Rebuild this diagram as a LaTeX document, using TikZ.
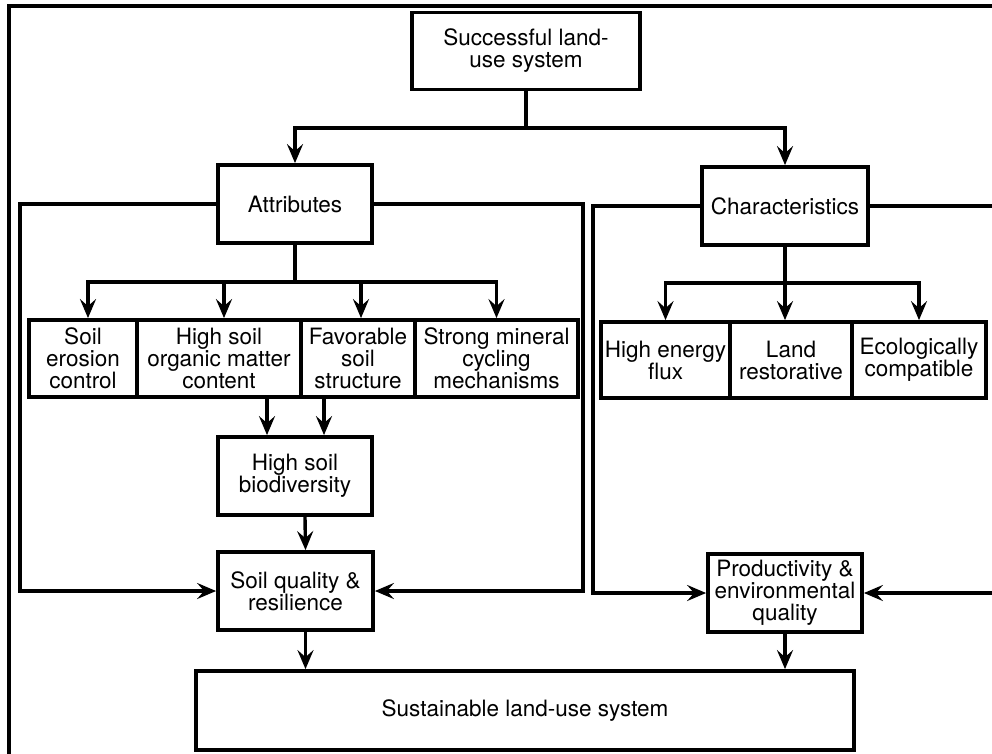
\documentclass[tikz,border=0pt]{standalone}
\usepackage{fontspec}
\setmainfont{TeX Gyre Heros}
\usepackage{tikz}
\usetikzlibrary{arrows.meta}
\usetikzlibrary{calc}
\usetikzlibrary{positioning}

\begin{document}
\begin{tikzpicture}[x=1pt, y=-1pt, line width=3.4pt,
    box/.style={draw, line width=3.8pt, align=center, inner sep=1pt,
      font=\fontsize{22.5}{22}\selectfont},
    link/.style={-{Stealth[length=19pt, width=16pt, inset=7pt]}}] % Flow

      \newcommand\rowy{358.5}
      \newcommand\rowh{77pt}

      \useasboundingbox (0, 0) rectangle (992, 753);
      \clip (0, 0) rectangle (992, 753);

      \draw [line width=3.6pt] (9, 760) -- (9, 6) -- (1000, 6);

      \node [box, minimum width=228pt, minimum height=77pt] (top) at (526, 51)
      {Successful land-\\use system};

      \node [box, minimum width=154pt, minimum height=78pt] (attr) at (295, 204) {Attributes};
      \node [box, minimum width=166pt, minimum height=78pt] (charac) at (785, 206) {Characteristics};

      \node [box, minimum width=108pt, minimum height=\rowh] (erosion) at (83, \rowy)
      {Soil\\erosion\\control};
      \node [box, minimum width=164pt, minimum height=\rowh] (organic) at (219, \rowy)
      {High soil\\organic matter\\content};
      \node [box, minimum width=114pt, minimum height=\rowh] (structure) at (358, \rowy)
      {Favorable\\soil\\structure};
      \node [box, minimum width=163pt, minimum height=\rowh] (cycling) at (496.5, \rowy)
      {Strong mineral\\cycling\\mechanisms};

      \node [box, minimum width=129pt, minimum height=76pt] (energy) at (665.5, 360) {High energy\\flux};
      \node [box, minimum width=122pt, minimum height=76pt] (restore) at (791, 360) {Land\\restorative};
      \node [box, minimum width=134pt, minimum height=76pt] (ecology) at (919, 360) {Ecologically\\compatible};

      \node [box, minimum width=154pt, minimum height=78pt] (biodiv) at (295, 476) {High soil\\biodiversity};
      \node [box, minimum width=155pt, minimum height=78pt] (quality) at (295.5, 591)
      {Soil quality \&\\resilience};
      \node [box, minimum width=154pt, minimum height=78pt] (product) at (785, 593)
      {Productivity \&\\environmental\\quality};
      \node [box, minimum width=658pt, minimum height=79pt] (sustain) at (525, 710.5)
      {Sustainable land-use system};

      \coordinate (topbus) at (526, 128);
      \coordinate (attrbus) at (295, 282);
      \coordinate (charbus) at (785, 283);
      \coordinate (leftx) at (20, 0);
      \coordinate (midx) at (583, 0);
      \coordinate (charx) at (593, 0);
      \coordinate (edgex) at (1000, 0);

      \draw (top.south) -- (topbus);
      \draw [link] (topbus) -| (attr.north);
      \draw [link] (topbus) -| (charac.north);

      \draw (attr.south) -- (attrbus);
      \draw [link] (attrbus) -| ([xshift=5pt]erosion.north);
      \draw [link] (attrbus) -| ([xshift=5pt]organic.north);
      \draw [link] (attrbus) -| ([xshift=3pt]structure.north);
      \draw [link] (attrbus) -| (cycling.north);

      \draw [link] (charac.south) -- (charac.south |- restore.north);
      \draw [link] (charbus) -| (energy.north);
      \draw [link] (charbus) -| (ecology.north);

      \draw [link] ([xshift=-28pt]biodiv.north |- organic.south) -- ([xshift=-28pt]biodiv.north);
      \draw [link] ([xshift=29pt]biodiv.north |- structure.south) -- ([xshift=29pt]biodiv.north);
      \draw [link] ([xshift=10pt]biodiv.south) -- ([xshift=10pt]quality.north);
      \draw [link] ([xshift=10pt]quality.south) -- ([xshift=10pt]quality.south |- sustain.north);
      \draw [link] (product.south) -- (product.south |- sustain.north);

      \draw [link] (attr.west) -- (attr.west -| leftx) |- (quality.west);
      \draw [link] (attr.east) -- (attr.east -| midx) |- (quality.east);
      \draw [link] (charac.west) -- (charac.west -| charx) |- (product.west);
      \draw [link] (charac.east) -- (charac.east -| edgex) |- (product.east);

    \end{tikzpicture}
\end{document}
